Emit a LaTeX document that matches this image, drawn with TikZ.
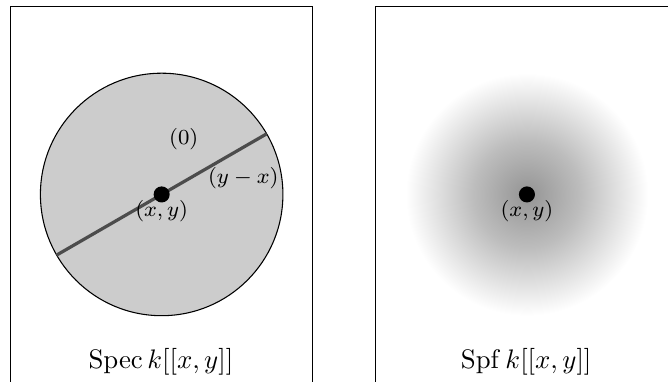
\documentclass[tikz,border=0pt]{standalone}
\usepackage{amsmath}
\usetikzlibrary{positioning, calc}
\pgfdeclareradialshading{spfglow}{\pgfpoint{0bp}{0bp}}%
  {color(0bp)=(black!42); color(11bp)=(black!26); color(25bp)=(white); color(50bp)=(white)}

\begin{document}
\begin{tikzpicture}[
   frame/.style={draw=black, thin},
   pnt/.style={circle, fill=black, inner sep=0pt, minimum size=6pt},
   lbl/.style={font=\footnotesize, inner sep=2pt}]
  \useasboundingbox (0,0) rectangle (8.76,5.0);
  \clip (0,0) rectangle (8.76,5.0);
  \coordinate (o1) at (2.12,2.45);
  \coordinate (o2) at (6.91,2.45);

  % the two frames, cut off at the bottom
  \draw[frame] (0.14,-0.5) -- (0.14,4.92) -- (4.10,4.92) -- (4.10,-0.5);
  \draw[frame] (4.93,-0.5) -- (4.93,4.92) -- (8.89,4.92) -- (8.89,-0.5);

  % Spec
  \draw[fill=black!20] (o1) circle (1.59);
  \coordinate (d1) at ($(o1)+(210:1.59)$);
  \coordinate (d2) at ($(o1)+(30:1.59)$);
  \draw[black!70, line width=1.2pt] (d1) -- (d2);
  \node[pnt] (p1) at (o1) {};
  \node[lbl] (gen) at ($(o1)+(0.29,0.73)$) {$(0)$};
  \node[lbl] (ht) at ($(o1)+(1.07,0.21)$) {$(y-x)$};
  \node[lbl, below=0mm of p1.center] (xy1) {$(x,y)$};
  \node (spec) at (2.11,0.26) {$\operatorname{Spec} k[[x,y]]$};

  % Spf
  \shade[shading=spfglow] (o2) circle (1.59);
  \node[pnt] (p2) at (o2) {};
  \node[lbl, below=0mm of p2.center] (xy2) {$(x,y)$};
  \node (spf) at (6.90,0.26) {$\operatorname{Spf} k[[x,y]]$};
\end{tikzpicture}
\end{document}
